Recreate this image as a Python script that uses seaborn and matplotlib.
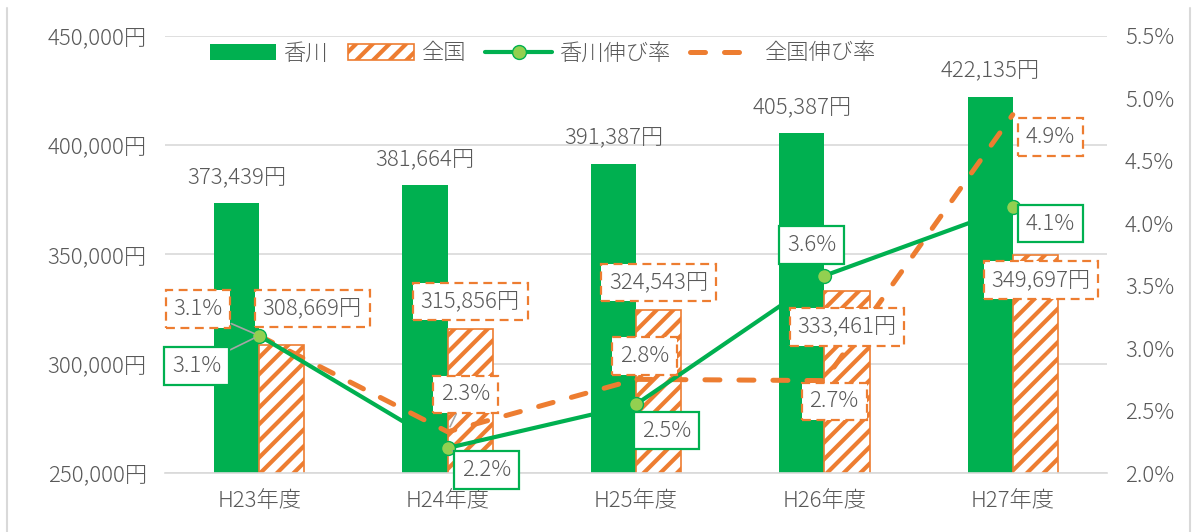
import matplotlib.pyplot as plt
import numpy as np
import pandas as pd
import seaborn as sns
from matplotlib.lines import Line2D
from matplotlib.patches import Patch
from matplotlib.ticker import FuncFormatter, MultipleLocator

# data
years = ["H23年度", "H24年度", "H25年度", "H26年度", "H27年度"]
kagawa_income = [373439, 381664, 391387, 405387, 422135]
national_income = [308669, 315856, 324543, 333461, 349697]
kagawa_growth = [3.1, 2.20, 2.55, 3.58, 4.13]
national_growth = [3.1, 2.33, 2.75, 2.74, 4.87]

# label placement (offset points from the anchor)
kagawa_rate_offsets = [(-45, -22), (28, -16), (22, -19), (-9, 22), (27, -12)]
national_rate_offsets = [(-44, 19), (13, 27), (6, 17), (7, -15), (27, -16)]
national_bar_offsets = [(22, 26), (0, 20), (0, 20), (0, -26), (4, -18)]
leader_idx = [0, 1]

GREEN = "#00B050"
LIGHT_GREEN = "#92D050"
ORANGE = "#ED7D31"
TEXT = "#595959"
GRID = "#D9D9D9"
FONT = ["Noto Sans CJK JP", "DejaVu Sans"]
FS = 16

sns.set_theme(style="white")
plt.rcParams["font.family"] = FONT
plt.rcParams["font.weight"] = "light"
plt.rcParams["hatch.linewidth"] = 3.0
plt.rcParams["hatch.color"] = ORANGE

df = pd.DataFrame({
    "年度": years * 2,
    "区分": ["香川"] * len(years) + ["全国"] * len(years),
    "金額": kagawa_income + national_income,
})

fig = plt.figure(figsize=(11.92, 5.32), dpi=100)
ax = fig.add_axes([165 / 1192, 59 / 532, 942 / 1192, 437 / 532])

sns.barplot(data=df, x="年度", y="金額", hue="区分", hue_order=["香川", "全国"],
            palette={"香川": GREEN, "全国": ORANGE}, width=0.48, gap=0,
            saturation=1, legend=False, ax=ax, zorder=2)
for bar in ax.containers[0]:
    bar.set_linewidth(0)
for bar in ax.containers[1]:
    bar.set_facecolor("white")
    bar.set_edgecolor(ORANGE)
    bar.set_hatch("//")
    bar.set_linewidth(1.2)

ax.set_ylim(250000, 450000)
ax.set_xlim(-0.5, 4.5)
ax.yaxis.set_major_locator(MultipleLocator(50000))
ax.yaxis.set_major_formatter(FuncFormatter(lambda v, p: f"{v:,.0f}円"))
ax.grid(axis="y", color=GRID, linewidth=1.2, zorder=0)
ax.set_axisbelow(True)
ax.set_xlabel("")
ax.set_ylabel("")
for s in ["top", "right", "left"]:
    ax.spines[s].set_visible(False)
ax.spines["bottom"].set_color(GRID)
ax.spines["bottom"].set_linewidth(1.2)
ax.tick_params(axis="y", length=0, pad=13, labelsize=FS, labelcolor=TEXT)
ax.tick_params(axis="x", length=0, pad=12, labelsize=FS, labelcolor=TEXT)

ax2 = ax.twinx()
xs = np.arange(len(years))
sns.lineplot(x=xs, y=national_growth, ax=ax2, color=ORANGE, linewidth=3.6,
             linestyle=(0, (3, 3.8)), dash_capstyle="round", zorder=3)
sns.lineplot(x=xs, y=kagawa_growth, ax=ax2, color=GREEN, linewidth=3.0,
             marker="o", markersize=10, markerfacecolor=LIGHT_GREEN,
             markeredgecolor=GREEN, markeredgewidth=1, zorder=4)
ax2.set_ylim(2.0, 5.5)
ax2.yaxis.set_major_locator(MultipleLocator(0.5))
ax2.yaxis.set_major_formatter(FuncFormatter(lambda v, p: f"{v:.1f}%"))
ax2.tick_params(axis="y", length=0, pad=13, labelsize=FS, labelcolor=TEXT)
ax2.grid(False)
for s in ax2.spines.values():
    s.set_visible(False)
ax2.set_xlim(-0.5, 4.5)

green_box = dict(boxstyle="square,pad=0.35", fc="white", ec=GREEN, lw=1.6)
orange_box = dict(boxstyle="square,pad=0.35", fc="white", ec=ORANGE, lw=1.6,
                  ls=(0, (4, 2.5)))
leader = dict(arrowstyle="-", color="#A6A6A6", lw=1.2, shrinkA=0, shrinkB=4)

bar_w = 0.24
for i in range(len(years)):
    # 香川 bar values
    ax2.annotate(f"{kagawa_income[i]:,}円", xy=(i - bar_w / 2, kagawa_income[i]),
                 xycoords=ax.transData, xytext=(0, 19), textcoords="offset points",
                 ha="center", va="center", fontsize=FS, color=TEXT, zorder=10)
    # 全国 bar values
    ax2.annotate(f"{national_income[i]:,}円", xy=(i + bar_w / 2, national_income[i]),
                 xycoords=ax.transData, xytext=national_bar_offsets[i],
                 textcoords="offset points", ha="center", va="center",
                 fontsize=FS, color=TEXT, bbox=orange_box, zorder=10)
    # growth labels
    ax2.annotate(f"{national_growth[i]:.1f}%", xy=(i, national_growth[i]),
                 xytext=national_rate_offsets[i], textcoords="offset points",
                 ha="center", va="center", fontsize=FS, color=TEXT,
                 bbox=orange_box, zorder=11,
                 arrowprops=leader if i in leader_idx else None)
    ax2.annotate(f"{kagawa_growth[i]:.1f}%", xy=(i, kagawa_growth[i]),
                 xytext=kagawa_rate_offsets[i], textcoords="offset points",
                 ha="center", va="center", fontsize=FS, color=TEXT,
                 bbox=green_box, zorder=11,
                 arrowprops=leader if i in leader_idx else None)

handles = [
    Patch(facecolor=GREEN, edgecolor="none"),
    Patch(facecolor="white", edgecolor=ORANGE, hatch="//", linewidth=1.2),
    Line2D([], [], color=GREEN, lw=3.0, marker="o", markersize=10,
           markerfacecolor=LIGHT_GREEN, markeredgecolor=GREEN),
    Line2D([], [], color=ORANGE, lw=3.6, linestyle=(0, (3, 3.8)),
           dash_capstyle="round"),
]
leg = ax2.legend(handles, ["香川", "全国", "香川伸び率", "全国伸び率"], ncol=4,
                 loc="center", bbox_to_anchor=(0.401, 0.96), frameon=False,
                 fontsize=FS, handlelength=3.0, handleheight=0.75,
                 handletextpad=0.35, columnspacing=0.85)
for t in leg.get_texts():
    t.set_color(TEXT)
leg.set_zorder(12)

for xpos in (7.5 / 1192, 1190 / 1192):
    fig.add_artist(Line2D([xpos, xpos], [0, 1 - 8 / 532], color=GRID, lw=1.5,
                          transform=fig.transFigure))

fig.savefig("out.png", dpi=100)
